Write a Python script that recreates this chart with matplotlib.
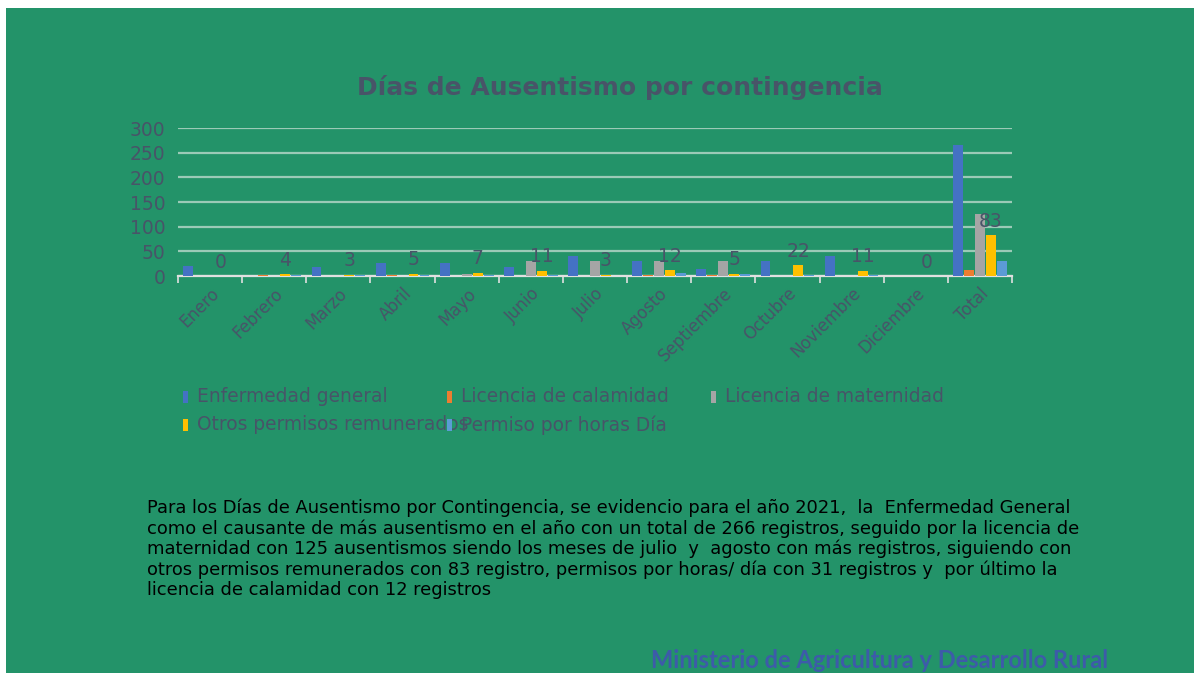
import matplotlib
matplotlib.use("Agg")
import matplotlib.pyplot as plt
import numpy as np
from matplotlib.patches import Rectangle

# ---------------- data ----------------
categories = ["Enero", "Febrero", "Marzo", "Abril", "Mayo", "Junio", "Julio",
              "Agosto", "Septiembre", "Octubre", "Noviembre", "Diciembre", "Total"]
series_names = ["Enfermedad general", "Licencia de calamidad", "Licencia de maternidad",
                "Otros permisos remunerados", "Permiso por horas Día"]
enfermedad_general = [21, 0, 18, 27, 27, 19, 40, 30, 14, 30, 40, 0, 266]
licencia_calamidad = [0, 2, 1, 3, 1, 0, 0, 2, 2, 1, 0, 0, 12]
licencia_maternidad = [0, 0, 0, 0, 5, 30, 30, 30, 30, 0, 0, 0, 125]
otros_permisos = [0, 4, 3, 5, 7, 11, 3, 12, 5, 22, 11, 0, 83]
permiso_horas = [0, 2, 3, 3, 3, 3, 1, 6, 5, 3, 2, 0, 31]
y_ticks = [0, 50, 100, 150, 200, 250, 300]

title = "Días de Ausentismo por contingencia"
paragraph_lines = [
    "Para los Días de Ausentismo por Contingencia, se evidencio para el año 2021,  la  Enfermedad General",
    "como el causante de más ausentismo en el año con un total de 266 registros, seguido por la licencia de",
    "maternidad con 125 ausentismos siendo los meses de julio  y  agosto con más registros, siguiendo con",
    "otros permisos remunerados con 83 registro, permisos por horas/ día con 31 registros y  por último la",
    "licencia de calamidad con 12 registros",
]
footer = "Ministerio de Agricultura y Desarrollo Rural"

# ---------------- style ----------------
W, H = 1194, 673
BG = "#239369"
TXT = "#485468"
colors = ["#4472C4", "#ED7D31", "#A5A5A5", "#FFC000", "#5B9BD5"]

fig = plt.figure(figsize=(W / 100, H / 100), dpi=100, facecolor=BG)
# white margins at top and left
fig.patches.append(Rectangle((0, 1 - 8 / H), 1, 8 / H, transform=fig.transFigure,
                             facecolor="white", edgecolor="none", zorder=-5))
fig.patches.append(Rectangle((0, 0), 6 / W, 1, transform=fig.transFigure,
                             facecolor="white", edgecolor="none", zorder=-5))

ax = fig.add_axes([178 / W, 1 - 276 / H, (1012 - 178) / W, (276 - 128) / H])
ax.set_facecolor("none")

data = [enfermedad_general, licencia_calamidad, licencia_maternidad, otros_permisos, permiso_horas]
n = len(categories)
x = np.arange(n)
bw = 0.171
containers = []
for k, (vals, c) in enumerate(zip(data, colors)):
    cont = ax.bar(x + (k - 2) * bw, vals, width=bw * 0.9, color=c, zorder=3)
    containers.append(cont)

ax.bar_label(containers[3], padding=3, fontsize=13.5, color=TXT, zorder=5)

ax.set_xlim(-0.5, n - 0.5)
ax.set_ylim(0, 300)
ax.set_yticks(y_ticks)
ax.set_yticklabels([str(v) for v in y_ticks], fontsize=13.5, color=TXT)
ax.tick_params(axis="y", length=0, pad=9)
ax.grid(axis="y", color="#CFE2D9", linewidth=1.6, alpha=0.7, zorder=1)
ax.set_axisbelow(True)

ax.set_xticks(x)
ax.set_xticklabels(categories, rotation=45, ha="right", rotation_mode="anchor",
                   fontsize=12, color=TXT)
ax.tick_params(axis="x", which="major", length=0, pad=6)
ax.set_xticks(np.arange(-0.5, n, 1.0), minor=True)
ax.tick_params(axis="x", which="minor", length=5, color="#E0E0E0", width=1.2, direction="out")

for s in ["top", "right", "left"]:
    ax.spines[s].set_visible(False)
ax.spines["bottom"].set_color("#E0E0E0")
ax.spines["bottom"].set_linewidth(1.6)

# title
fig.text(620 / W, 1 - 88 / H, title, ha="center", va="center", fontsize=18,
         fontweight="bold", color=TXT)

# legend (manual, Excel-like fixed columns)
for i, (name, c) in enumerate(zip(series_names, colors)):
    col, row = i % 3, i // 3
    lx = 183 + col * 264
    ly = 397 + row * 28
    fig.patches.append(Rectangle((lx / W, 1 - (ly + 6) / H), 5 / W, 12 / H,
                                 transform=fig.transFigure, facecolor=c,
                                 edgecolor="none", zorder=3))
    fig.text((lx + 14) / W, 1 - ly / H, name, ha="left", va="center",
             fontsize=13.4, color=TXT, zorder=2)

# paragraph
for j, line in enumerate(paragraph_lines):
    fig.text(147 / W, 1 - (508 + j * 20.5) / H, line, ha="left", va="center",
             fontsize=12.9, color="black")

# footer
fig.text(651 / W, 1 - 661 / H, footer, ha="left", va="center", fontsize=17,
         fontweight="bold", color="#3D5BA9", family="Lato")

fig.savefig("out.png", dpi=100, facecolor=BG)
